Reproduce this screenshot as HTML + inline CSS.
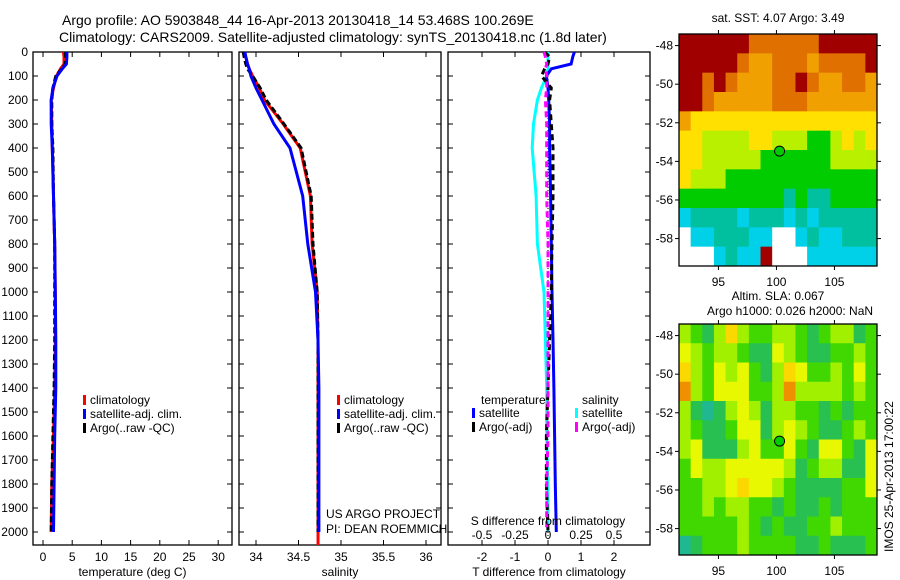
<!DOCTYPE html>
<html><head><meta charset="utf-8"><style>
html,body{margin:0;padding:0;background:#fff;}
svg{display:block;font-family:"Liberation Sans",sans-serif;}
text{font-size:12px;fill:#000;}
</style></head><body>
<svg id="fig" width="900" height="580" viewBox="0 0 900 580">
<text x="62" y="25" style="font-size:14px">Argo profile: AO 5903848_44 16-Apr-2013 20130418_14 53.468S 100.269E</text>
<text x="59" y="42" style="font-size:14px">Climatology: CARS2009. Satellite-adjusted climatology: synTS_20130418.nc (1.8d later)</text>
<g id="g"></g>
</svg>
<script>
// ---- profile data ----
const depths=[0,20,50,70,100,150,200,300,400,600,800,1000,1200,1400,1600,1800,2000];
const tempClim=[3.5,3.6,3.6,3.0,2.3,1.8,1.4,1.5,1.6,1.8,2.0,2.1,2.1,2.0,1.8,1.5,1.4];
const tempSat=[4.1,4.1,4.0,3.3,2.4,1.7,1.4,1.4,1.6,1.8,2.0,2.1,2.2,2.2,2.0,1.9,1.8];
const tempArgo=[3.8,3.9,3.8,3.2,2.2,1.7,1.5,1.5,1.7,1.8,2.0,2.0,2.0,1.9,1.7,1.5,1.4];
const salClim=[33.86,33.88,33.9,33.92,33.96,34.04,34.1,34.32,34.52,34.64,34.66,34.72,34.73,34.73,34.73,34.73,34.73];
const salSat=[33.87,33.88,33.9,33.92,33.94,34.0,34.07,34.21,34.4,34.55,34.61,34.7,34.73,34.74,34.74,34.74,34.74];
const salArgo=[33.85,33.86,33.88,33.9,33.96,34.05,34.12,34.33,34.53,34.65,34.67,34.72,34.73,34.73,34.73,34.73,34.73];
const tDiffSat=[0.8,0.75,0.7,0.1,-0.05,0.0,0.02,0.05,0.05,0.08,0.1,0.12,0.15,0.18,0.2,0.22,0.25];
const tDiffArgo=[-0.1,0.05,0.0,-0.1,-0.2,0.1,0.05,0.1,0.15,0.15,0.12,0.1,0.05,0.0,-0.05,-0.05,0.0];
const sDiffSat=[0.0,0.0,0.0,0.0,-0.01,-0.05,-0.08,-0.11,-0.12,-0.09,-0.08,-0.03,-0.02,-0.01,-0.01,0.0,0.0];
const sDiffArgo=[-0.03,-0.02,-0.01,-0.02,-0.01,-0.01,-0.02,-0.01,-0.01,-0.01,0.0,0.0,0.0,0.0,0.0,-0.01,-0.01];
const depthTicks=[0,100,200,300,400,500,600,700,800,900,1000,1100,1200,1300,1400,1500,1600,1700,1800,1900,2000];
const tempTicks=[0,5,10,15,20,25,30];
const salTicks=[34,34.5,35,35.5,36];
const tDiffTicks=[-2,-1,0,1,2];
const sDiffTicks=[-0.5,-0.25,0,0.25,0.5];
// ---- map data (coarse cells, 1deg) ----
const sstGrid=[
[9,9,9,9,9,9,8,8,8,8,8,8,9,9,9,9,9],
[9,9,9,9,9,8,7,7,8,8,8,7,8,8,8,8,9],
[9,9,8,9,8,7,7,7,8,8,9,8,7,7,8,8,7],
[9,9,8,7,7,7,7,7,8,8,8,7,7,7,7,7,7],
[7,6,6,6,6,6,6,6,6,6,6,6,6,6,6,6,6],
[6,6,5,5,5,5,6,6,5,5,5,4,4,5,6,5,6],
[6,6,5,5,5,5,5,4,4,4,4,4,4,5,5,5,5],
[6,5,5,5,4,4,4,4,4,4,4,4,4,4,4,4,4],
[4,4,4,4,4,4,4,4,4,3,4,3,3,4,4,4,4],
[2,3,3,3,3,2,3,3,3,2,3,2,3,3,3,3,3],
[0,2,2,3,3,3,2,2,0,0,2,3,2,2,3,3,3],
[0,0,0,2,3,2,2,9,0,0,0,2,2,2,2,2,2]];
const slaGrid=[
[4,3,2,4,6,4,3,3,4,4,3,2,3,4,4,2,3],
[5,4,3,4,4,3,2,2,5,4,3,2,2,3,3,4,3],
[6,4,3,5,4,5,3,2,4,6,5,3,3,4,3,5,3],
[7,4,3,5,5,5,3,3,4,7,4,4,4,4,3,4,3],
[4,2,1,2,4,5,4,2,4,4,3,3,2,3,2,3,3],
[4,3,2,2,3,5,5,2,4,5,4,3,2,2,3,4,3],
[4,5,2,2,2,4,5,3,3,5,3,2,5,5,3,2,5],
[3,5,4,4,5,5,5,5,5,4,2,3,4,4,2,2,5],
[3,3,4,4,5,6,5,5,4,3,2,2,2,2,3,3,5],
[3,3,4,3,4,4,3,3,2,3,2,2,3,2,3,3,3],
[3,3,3,3,3,4,3,2,3,2,2,3,3,4,3,3,3],
[1,2,3,3,3,4,3,3,3,3,2,2,3,2,2,2,3]];
const latTicks=[-48,-50,-52,-54,-56,-58];
const lonTicks=[95,100,105];
const argoLon=100.269, argoLat=-53.468;

const NS="http://www.w3.org/2000/svg";
const G=document.getElementById('g');
function el(t,a,p){const e=document.createElementNS(NS,t);for(const k in a)e.setAttribute(k,a[k]);(p||G).appendChild(e);return e;}
function txt(x,y,s,anchor,p){const e=el('text',{x:x,y:y,'text-anchor':anchor||'start'},p);e.textContent=s;return e;}
const Y=d=>52+d*0.24;
const TOP=52,BOT=545;
function panel(name,x0,x1,fx,ticks,fmt,xlabel,yLabels){
  const g=el('g',{});
  
  
  const r=el('rect',{x:x0,y:TOP,width:x1-x0,height:BOT-TOP,fill:'none',stroke:'#000','stroke-width':1.3},g);
  
  
  depthTicks.forEach(d=>{
    el('line',{x1:x0,x2:x0+5,y1:Y(d),y2:Y(d),stroke:'#000'},g);
    el('line',{x1:x1,x2:x1-5,y1:Y(d),y2:Y(d),stroke:'#000'},g);
    if(yLabels){const t=txt(x0-5,Y(d)+4,String(d),'end',g);
      
      }
  });
  ticks.forEach(v=>{const x=fx(v);
    el('line',{x1:x,x2:x,y1:BOT,y2:BOT-5,stroke:'#000'},g);
    el('line',{x1:x,x2:x,y1:TOP,y2:TOP+5,stroke:'#000'},g);
    const t=txt(x,561,fmt(v),'middle',g);
    
    
  });
  const xl=txt((x0+x1)/2,576,xlabel,'middle',g);
  
  
  return g;
}
function series(name,vals,fx,color,dash,g){
  const pts=vals.map((v,i)=>fx(v).toFixed(1)+','+Y(depths[i]).toFixed(1)).join(' ');
  const p=el('polyline',{points:pts,fill:'none',stroke:color,'stroke-width':3,'stroke-dasharray':dash||'none'},g);
  
  
}
function legend(x,y,items,g){
  items.forEach((it,i)=>{
    el('rect',{x:x,y:y+i*14-9,width:3,height:10,fill:it[1]},g);
    const t=txt(x+7,y+i*14,it[0],'start',g);
    
    
  });
}
// panel 1
const fT=v=>43+v*5.84;
const p1=panel('temperature-panel',33,232,fT,tempTicks,String,'temperature (deg C)',true);
series('temp-climatology-line',tempClim,fT,'#ff0000',null,p1);
series('temp-argo-line',tempArgo,fT,'#000','6,3',p1);
series('temp-satellite-line',tempSat,fT,'#0000ff',null,p1);
legend(83,404,[['climatology','#f00'],['satellite-adj. clim.','#00f'],['Argo(..raw -QC)','#000']],p1);
// panel 2
const fS=v=>256+(v-34)*85;
const p2=panel('salinity-panel',239,441,fS,salTicks,String,'salinity',false);
series('sal-climatology-line',salClim,fS,'#ff0000',null,p2);
series('sal-argo-line',salArgo,fS,'#000','6,3',p2);
series('sal-satellite-line',salSat,fS,'#0000ff',null,p2);
el('line',{x1:fS(34.73),x2:fS(34.73),y1:Y(2000),y2:BOT,stroke:'#f00','stroke-width':3},p2);
legend(337,404,[['climatology','#f00'],['satellite-adj. clim.','#00f'],['Argo(..raw -QC)','#000']],p2);
const c1=txt(326,518,'US ARGO PROJECT','start',p2);
const c2=txt(326,533,'PI: DEAN ROEMMICH','start',p2);
// panel 3
const fD=v=>548+v*33;
const fSD=v=>548+v*132;
const p3=panel('difference-panel',448,650,fD,tDiffTicks,String,'T difference from climatology',false);
el('line',{x1:548,x2:548,y1:TOP,y2:BOT,stroke:'#000','stroke-dasharray':'1,2'},p3);
series('sdiff-satellite-line',sDiffSat,fSD,'#00ffff',null,p3);
series('tdiff-satellite-line',tDiffSat,fD,'#0000ff',null,p3);
series('tdiff-argo-line',tDiffArgo,fD,'#000','6,4',p3);
series('sdiff-argo-line',sDiffArgo,fSD,'#ff00ff','6,4',p3);
const lt=txt(481,404,'temperature','start',p3);
const ls=txt(582,404,'salinity','start',p3);
legend(472,417,[['satellite','#00f'],['Argo(-adj)','#000']],p3);
legend(575,417,[['satellite','#0ff'],['Argo(-adj)','#f0f']],p3);
const st=txt(548,525,'S difference from climatology','middle',p3);
sDiffTicks.forEach(v=>{const t=txt(fSD(v),539,String(v),'middle',p3);
  
  });
// maps
const sstPal=['#ffffff','#0090ff','#00d0e8','#00c0a0','#00cc00','#b8f000','#ffe000','#f0a000','#e07000','#a00000'];
const slaPal=['#00c8c0','#20b890','#28c050','#40d800','#a0f000','#e8f800','#fad800','#f09000'];
function map(name,x0,y0,x1,y1,grid,pal){
  const g=el('g',{});
  
  
  const lonF=v=>x0+(v-91.6)*11.6, latF=v=>y0+(-47.4-v)*19.3;
  const rows=grid.length, cols=grid[0].length;
  const cw=(x1-x0)/cols, ch=(y1-y0)/rows;
  grid.forEach((row,r)=>row.forEach((v,c)=>{
    const cell=el('rect',{x:x0+c*cw,y:y0+r*ch,width:cw+0.5,height:ch+0.5,fill:pal[v]},g);
    
    
  }));
  el('rect',{x:x0,y:y0,width:x1-x0,height:y1-y0,fill:'none',stroke:'#000','stroke-width':1.3},g);
  latTicks.forEach(v=>{const y=latF(v);
    el('line',{x1:x0,x2:x0-4,y1:y,y2:y,stroke:'#000'},g);
    el('line',{x1:x1,x2:x1+4,y1:y,y2:y,stroke:'#000'},g);
    const t=txt(x0-6,y+4,String(v),'end',g);
    
    });
  lonTicks.forEach(v=>{const x=lonF(v);
    el('line',{x1:x,x2:x,y1:y1,y2:y1+4,stroke:'#000'},g);
    el('line',{x1:x,x2:x,y1:y0,y2:y0-4,stroke:'#000'},g);
    const t=txt(x,y1+20,String(v),'middle',g);
    
    });
  const m=el('circle',{cx:lonF(argoLon),cy:latF(argoLat),r:5,fill:'#00cc00',stroke:'#000'},g);
  
  
}
map('sst-map',679,34,877,266,sstGrid,sstPal);
map('sla-map',679,324,877,555,slaGrid,slaPal);
const t1=txt(778,22,'sat. SST: 4.07 Argo: 3.49','middle');
const t2=txt(778,300,'Altim. SLA: 0.067','middle');
const t3=txt(790,315,'Argo h1000: 0.026 h2000: NaN','middle');
const t4=txt(0,0,'IMOS 25-Apr-2013 17:00:22','start');t4.setAttribute('transform','translate(893,552) rotate(-90)');


</script>
</body></html>
